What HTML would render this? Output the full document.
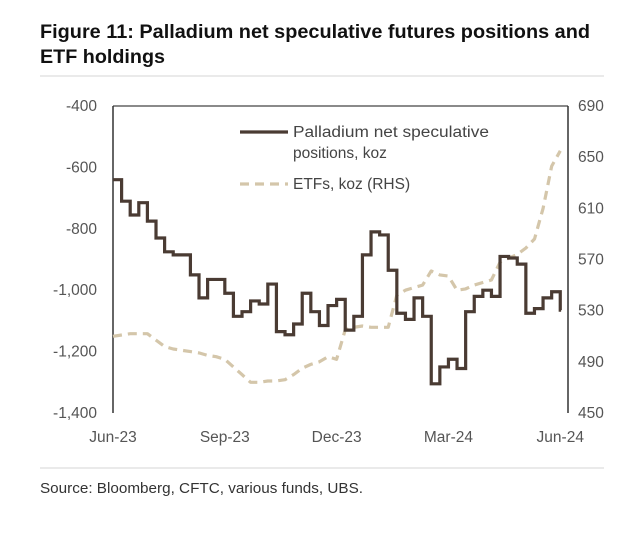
<!DOCTYPE html>
<html><head><meta charset="utf-8"><style>
body{margin:0;background:#fff;width:640px;height:535px;overflow:hidden;font-family:"Liberation Sans",sans-serif}
</style></head><body>
<svg width="640" height="535" viewBox="0 0 640 535" id="svg">
<text x="40" y="38" font-size="19.5" font-weight="bold" fill="#111" textLength="550" lengthAdjust="spacingAndGlyphs">Figure 11: Palladium net speculative futures positions and</text>
<text x="40" y="63" font-size="19.5" font-weight="bold" fill="#111" textLength="125" lengthAdjust="spacingAndGlyphs">ETF holdings</text>
<line x1="40" y1="76" x2="604" y2="76" stroke="#ddd" stroke-width="1.2"/>
<line x1="113" y1="106" x2="568" y2="106" stroke="#444" stroke-width="1.3"/>
<line x1="113" y1="106" x2="113" y2="413" stroke="#333" stroke-width="1.5"/>
<line x1="568" y1="106" x2="568" y2="413" stroke="#333" stroke-width="1.5"/>
<g id="ticks"></g>
<g id="series"></g>
<line x1="240" y1="132" x2="288" y2="132" stroke="#4a3b33" stroke-width="3.2"/>
<text x="293" y="137" font-size="15.5" fill="#444" textLength="196" lengthAdjust="spacingAndGlyphs">Palladium net speculative</text>
<text x="293" y="158" font-size="15.5" fill="#444">positions, koz</text>
<line x1="240" y1="184" x2="288" y2="184" stroke="#d4c6aa" stroke-width="3.2" stroke-dasharray="9 6"/>
<text x="293" y="189" font-size="15.5" fill="#444">ETFs, koz (RHS)</text>
<line x1="40" y1="468" x2="604" y2="468" stroke="#ddd" stroke-width="1.2"/>
<text x="40" y="493" font-size="15" fill="#333" textLength="323" lengthAdjust="spacingAndGlyphs">Source: Bloomberg, CFTC, various funds, UBS.</text>
</svg>
<script>
const leftTicks=[-400,-600,-800,-1000,-1200,-1400];
const leftTickLabels=["-400","-600","-800","-1,000","-1,200","-1,400"];
const rightTicks=[690,650,610,570,530,490,450];
const xTickLabels=["Jun-23","Sep-23","Dec-23","Mar-24","Jun-24"];
const xTickWeeks=[0,13,26,39,52];
const palladium=[-640,-710,-755,-715,-775,-830,-875,-885,-885,-950,-1025,-965,-965,-1010,-1085,-1070,-1035,-1045,-980,-1135,-1145,-1110,-1010,-1070,-1115,-1050,-1030,-1130,-1085,-885,-810,-820,-935,-1075,-1095,-1025,-1085,-1305,-1250,-1225,-1255,-1070,-1020,-1000,-1020,-890,-895,-915,-1075,-1060,-1025,-1005,-1065];
const etf=[510,511,512,512,512,507,502,500,499,498,497,495,494,492,486,480,474,474,475,475,476,480,485,488,490,494,492,515,517,518,517,517,517,542,546,548,550,561,558,557,546,547,550,552,554,568,571,574,579,586,610,643,655];
const NS='http://www.w3.org/2000/svg';
const xS=w=>113+w*(455/52.9);
const yL=v=>106+(-400-v)*(307/1000);
const yR=v=>106+(690-v)*(307/240);
const tg=document.getElementById('ticks'),sg=document.getElementById('series');
function mk(tag,a,p){const e=document.createElementNS(NS,tag);for(const k in a)e.setAttribute(k,a[k]);p.appendChild(e);return e;}
leftTicks.forEach((v,i)=>{const t=mk('text',{x:97,y:yL(v)+5,'font-size':15.5,fill:'#555','text-anchor':'end'},tg);t.textContent=leftTickLabels[i];

});
rightTicks.forEach(v=>{const t=mk('text',{x:578,y:yR(v)+5,'font-size':15.5,fill:'#555'},tg);t.textContent=v;

});
xTickLabels.forEach((s,i)=>{const t=mk('text',{x:xS(xTickWeeks[i]),y:442,'font-size':15.5,fill:'#555','text-anchor':'middle'},tg);t.textContent=s;

});
let d='';etf.forEach((v,i)=>{d+=(i?'L':'M')+xS(i).toFixed(1)+' '+yR(v).toFixed(1);});
const pe=mk('path',{d:d,fill:'none',stroke:'#d4c6aa','stroke-width':3.2,'stroke-dasharray':'9 6','stroke-linejoin':'round'},sg);


let d2='';palladium.forEach((v,i)=>{const x=xS(i),y=yL(v);if(!i)d2='M'+x+' '+y;else d2+='H'+x+'V'+y;});
d2+='H'+xS(palladium.length-0.9);
const pp=mk('path',{d:d2,fill:'none',stroke:'#4a3b33','stroke-width':3.2,'stroke-linejoin':'miter'},sg);


</script>
</body></html>
